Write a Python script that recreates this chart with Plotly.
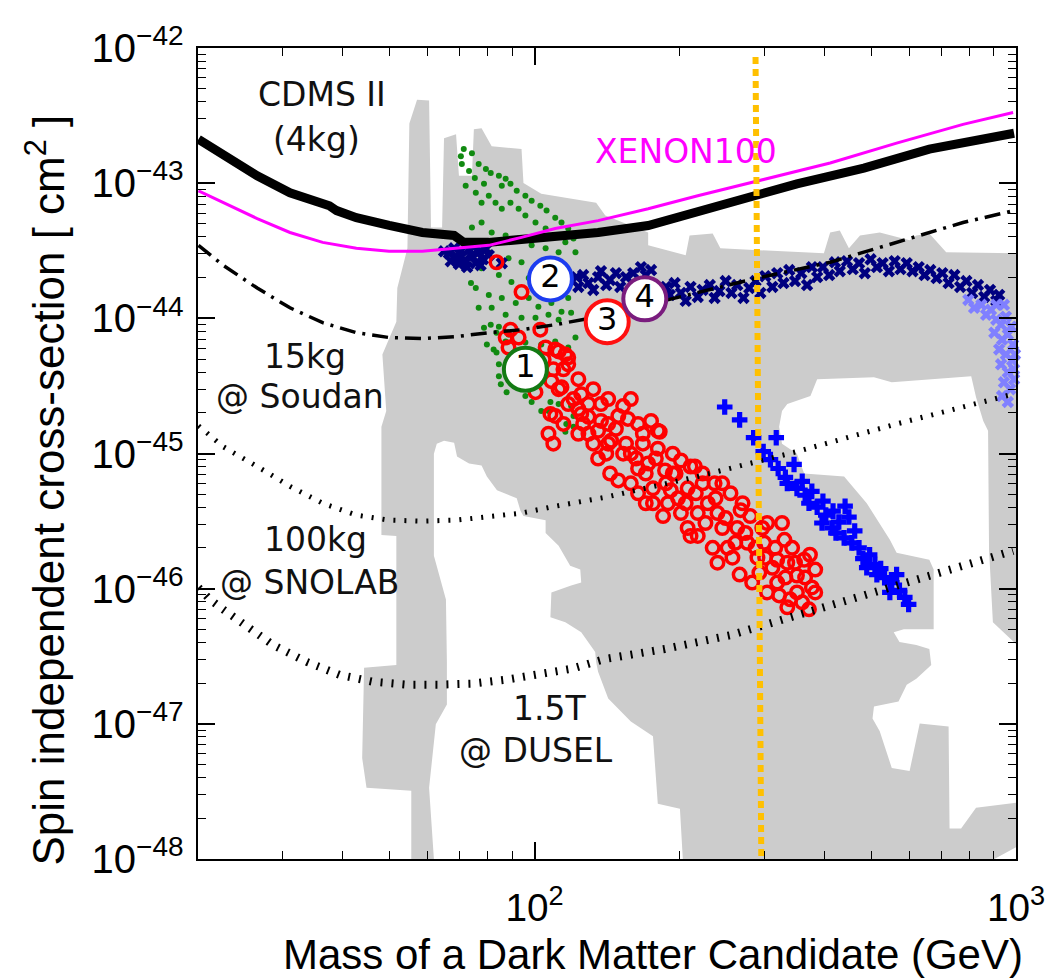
import numpy as np
import plotly.graph_objects as go

# ------------------------------------------------------------------
# Data (log10 of mass [GeV], log10 of sigma [cm^2])
# ------------------------------------------------------------------

# Gray allowed region (outer boundary)
gray_logm = [1.744, 1.744, 1.651, 1.642, 1.646, 1.672, 1.713, 1.713, 1.682, 1.682, 1.692, 1.684,
             1.713, 1.715, 1.725, 1.736, 1.740, 1.756, 1.781, 1.785, 1.808, 1.812, 1.837, 1.843,
             1.870, 1.874, 1.890, 1.911, 1.973, 1.977, 2.014, 2.128, 2.147, 2.236, 2.236, 2.314,
             2.322, 2.370, 2.386, 2.601, 2.614, 2.634, 2.653, 2.676, 2.717, 2.779, 2.793, 2.820,
             2.855, 3.0, 3.0, 2.955]
gray_logs = [-48.0, -47.495, -47.473, -47.253, -46.586, -46.579, -46.564, -45.610, -45.603, -44.803,
             -44.685, -44.267, -44.025, -43.776, -43.629, -43.482, -42.558, -42.382, -42.389, -43.328,
             -43.328, -42.668, -42.638, -42.946, -42.946, -42.602, -42.594, -42.726, -42.748, -42.998,
             -43.079, -43.145, -43.240, -43.365, -43.460, -43.533, -43.387, -43.372, -43.482, -43.519,
             -43.365, -43.350, -43.482, -43.387, -43.365, -43.423, -43.387, -43.372, -43.511, -43.519,
             -47.913, -48.0]

# Excluded (white) pockets inside the gray region
holeL_logm = [1.791, 1.797, 1.812, 1.833, 1.839, 1.864, 1.890, 1.901, 1.922, 1.963, 1.971, 1.977,
              2.023, 2.023, 2.050, 2.074, 2.095, 2.097, 2.076, 2.035, 2.033, 2.064, 2.097, 2.126,
              2.128, 2.132, 2.153, 2.200, 2.246, 2.256, 2.302, 2.308, 1.791, 1.781, 1.795, 1.818,
              1.818, 1.816, 1.791]
holeL_logs = [-45.001, -44.927, -44.905, -44.920, -45.023, -45.074, -45.089, -45.170, -45.272, -45.331,
              -45.426, -45.463, -45.493, -45.588, -45.683, -45.830, -45.859, -45.955, -45.977, -46.028,
              -46.211, -46.248, -46.322, -46.468, -46.542, -46.615, -46.813, -46.982, -47.092, -47.591,
              -47.628, -48.0, -48.0, -47.473, -47.004, -46.857, -46.542, -46.080, -45.757]

holeR_logm = [2.587, 2.705, 2.742, 2.907, 2.917, 2.932, 2.942, 2.944, 2.952, 3.0, 3.0, 2.917, 2.886,
              2.862, 2.860, 2.800, 2.779, 2.742, 2.717, 2.702, 2.705, 2.756, 2.773, 2.793, 2.824,
              2.820, 2.793, 2.758, 2.746, 2.767, 2.829, 2.829, 2.820, 2.752, 2.738, 2.690, 2.643,
              2.560, 2.545, 2.514, 2.508, 2.514, 2.525, 2.573]
holeR_logs = [-44.451, -44.436, -44.473, -44.429, -44.583, -44.759, -44.832, -45.713, -46.248, -46.410,
              -47.584, -47.620, -47.774, -47.774, -47.019, -46.997, -47.349, -47.327, -47.055, -46.960,
              -46.872, -46.835, -46.710, -46.666, -46.564, -46.446, -46.417, -46.395, -46.322, -46.300,
              -46.300, -45.859, -45.786, -45.735, -45.639, -45.368, -45.170, -45.148, -45.001, -44.927,
              -44.803, -44.685, -44.634, -44.575]

# Limit curves
cdms_logm = [1.302, 1.353, 1.424, 1.492, 1.560, 1.574, 1.589, 1.630, 1.698, 1.767, 1.833, 1.843,
             1.853, 1.905, 1.973, 2.043, 2.132, 2.236, 2.339, 2.457, 2.545, 2.684, 2.820, 2.996]
cdms_logs = [-42.675, -42.785, -42.946, -43.071, -43.145, -43.167, -43.203, -43.255, -43.313, -43.365,
             -43.387, -43.423, -43.438, -43.438, -43.416, -43.387, -43.365, -43.313, -43.218, -43.093,
             -43.005, -42.888, -42.748, -42.631]

xenon_logm = [1.302, 1.353, 1.424, 1.492, 1.560, 1.630, 1.698, 1.767, 1.837, 1.905, 1.973, 2.043,
              2.132, 2.236, 2.339, 2.463, 2.614, 2.752, 2.890, 2.994]
xenon_logs = [-43.057, -43.145, -43.262, -43.365, -43.438, -43.482, -43.504, -43.504, -43.482, -43.460,
              -43.401, -43.335, -43.277, -43.189, -43.093, -42.983, -42.851, -42.704, -42.565, -42.477]

soudan_logm = [1.302, 1.353, 1.424, 1.492, 1.560, 1.630, 1.698, 1.767, 1.837, 1.905, 1.973, 2.043,
               2.132, 2.215, 2.291, 2.463, 2.614, 2.752, 2.890, 2.996]
soudan_logs = [-43.460, -43.607, -43.776, -43.922, -44.032, -44.106, -44.142, -44.150, -44.135, -44.106,
               -44.084, -44.047, -43.988, -43.915, -43.849, -43.702, -43.585, -43.438, -43.291, -43.203]

snolab_logm = [1.302, 1.353, 1.424, 1.492, 1.560, 1.630, 1.698, 1.767, 1.837, 1.905, 1.973, 2.043,
               2.147, 2.339, 2.545, 2.752, 2.924, 2.994]
snolab_logs = [-44.795, -44.949, -45.096, -45.243, -45.368, -45.456, -45.493, -45.500, -45.493, -45.463,
               -45.441, -45.390, -45.324, -45.170, -44.986, -44.781, -44.619, -44.561]

dusel_logm = [1.302, 1.326, 1.353, 1.388, 1.457, 1.527, 1.595, 1.663, 1.733, 1.802, 1.870, 1.940,
              2.008, 2.076, 2.147, 2.271, 2.407, 2.545, 2.752, 2.994]
dusel_logs = [-45.992, -46.080, -46.153, -46.248, -46.417, -46.542, -46.637, -46.688, -46.710, -46.710,
              -46.703, -46.674, -46.637, -46.593, -46.520, -46.446, -46.344, -46.197, -45.977, -45.720]

orange_logm = [2.459, 2.471]
orange_logs = [-42.066, -48.0]

# Model points
green_logm = [1.853, 1.870, 1.849, 1.884, 1.899, 1.909, 1.926, 1.940, 1.932, 1.950, 1.963, 1.981,
              1.994, 2.012, 2.025, 2.043, 2.056, 2.070, 2.081, 2.085, 1.857, 1.878, 1.890, 1.905,
              1.919, 1.932, 1.950, 1.967, 1.981, 2.002, 2.023, 2.043, 2.064, 1.870, 1.890, 1.911,
              1.940, 1.967, 1.994, 2.023, 2.050, 1.905, 1.946, 1.973, 2.008, 2.035, 2.064, 1.890,
              1.926, 1.952, 1.988, 2.014, 2.043, 2.070, 1.868, 1.878, 1.905, 1.932, 1.961, 1.988,
              2.008, 2.035, 2.056, 1.884, 1.911, 1.940, 1.973, 2.002, 2.029, 2.050, 2.076, 1.895,
              1.909, 1.921, 1.926, 1.946, 1.981, 2.014, 2.043, 2.070, 1.901, 1.915, 1.940, 2.085,
              1.921, 1.926, 1.926, 1.981, 1.994, 2.033, 2.050, 2.014, 2.081, 2.066, 2.081, 2.064,
              2.029, 2.076, 1.930, 1.942, 1.847, 1.864, 1.876, 1.895]
green_logs = [-42.748, -42.778, -42.858, -42.858, -42.895, -42.924, -42.946, -42.968, -43.020, -43.005,
              -43.057, -43.093, -43.130, -43.167, -43.203, -43.255, -43.291, -43.335, -43.409, -43.511,
              -43.020, -43.071, -43.145, -43.093, -43.145, -43.189, -43.145, -43.189, -43.240, -43.291,
              -43.335, -43.387, -43.438, -43.328, -43.291, -43.365, -43.387, -43.409, -43.460, -43.482,
              -43.511, -43.511, -43.555, -43.585, -43.629, -43.658, -43.629, -43.629, -43.680, -43.732,
              -43.702, -43.776, -43.805, -43.849, -43.739, -43.776, -43.827, -43.849, -43.886, -43.849,
              -43.915, -43.886, -43.952, -43.922, -43.922, -43.974, -43.996, -43.996, -43.974, -44.010,
              -43.959, -44.069, -44.047, -44.106, -44.062, -44.120, -44.179, -44.194, -44.172, -44.216,
              -44.194, -44.230, -44.172, -44.142, -44.252, -44.340, -44.428, -44.575, -44.619, -44.619,
              -44.634, -44.685, -44.722, -44.781, -44.803, -44.839, -44.685, -44.649, -44.487, -44.546,
              -42.800, -42.910, -42.961, -43.005]

navy_logm = [1.822, 1.833, 1.839, 1.847, 1.855, 1.864, 1.870, 1.878, 1.884, 1.893, 1.899, 1.826,
             1.843, 1.860, 1.876, 1.888, 1.905, 1.812, 1.932,
             2.087, 2.091, 2.101, 2.112, 2.122, 2.132, 2.138, 2.149, 2.157, 2.169, 2.178, 2.190,
             2.205, 2.221, 2.231, 2.242, 2.273, 2.281, 2.291, 2.304, 2.314, 2.324, 2.339, 2.349,
             2.364, 2.374, 2.384, 2.397, 2.409, 2.421, 2.434, 2.446, 2.459, 2.469, 2.479, 2.494,
             2.504, 2.517, 2.529, 2.541, 2.554, 2.566, 2.576, 2.587, 2.599, 2.612, 2.624, 2.634,
             2.649, 2.661, 2.674, 2.686, 2.698, 2.711, 2.723, 2.736, 2.748, 2.760, 2.773, 2.785,
             2.798, 2.810, 2.822, 2.835, 2.847, 2.860, 2.872, 2.884, 2.897, 2.909, 2.921, 2.934,
             2.946, 2.959, 2.965]
navy_logs = [-43.519, -43.482, -43.548, -43.504, -43.570, -43.489, -43.541, -43.592, -43.511, -43.563,
             -43.489, -43.577, -43.599, -43.621, -43.460, -43.607, -43.533, -43.504, -43.592,
             -43.695, -43.768, -43.680, -43.739, -43.790, -43.695, -43.651, -43.754, -43.717, -43.666,
             -43.768, -43.695, -43.666, -43.621, -43.680, -43.643, -43.768, -43.827, -43.739, -43.812,
             -43.871, -43.768, -43.842, -43.790, -43.754, -43.849, -43.798, -43.724, -43.812, -43.754,
             -43.849, -43.776, -43.724, -43.812, -43.688, -43.768, -43.666, -43.739, -43.643, -43.724,
             -43.666, -43.754, -43.621, -43.695, -43.621, -43.680, -43.585, -43.651, -43.577, -43.636,
             -43.592, -43.666, -43.563, -43.621, -43.592, -43.651, -43.577, -43.636, -43.592, -43.651,
             -43.621, -43.680, -43.643, -43.702, -43.666, -43.739, -43.680, -43.768, -43.724, -43.812,
             -43.754, -43.842, -43.790, -43.871, -43.827]

light_logm = [2.901, 2.913, 2.928, 2.938, 2.948, 2.959, 2.969, 2.979, 2.990, 2.955, 2.971, 2.983,
              2.994, 2.965, 2.979, 2.992, 2.969, 2.983, 2.996, 2.975, 2.988, 2.971, 2.983, 2.996,
              2.959, 2.998, 2.975]
light_logs = [-43.864, -43.922, -43.900, -43.974, -43.937, -44.010, -44.047, -43.988, -44.062, -44.106,
              -44.157, -44.120, -44.194, -44.230, -44.267, -44.311, -44.340, -44.399, -44.451, -44.473,
              -44.524, -44.575, -44.619, -44.377, -43.900, -44.267, -43.900]

blue_logm = [2.395, 2.426, 2.455, 2.502, 2.475, 2.490, 2.506, 2.521, 2.539, 2.545, 2.562, 2.576,
             2.570, 2.587, 2.599, 2.605, 2.620, 2.632, 2.645, 2.653, 2.626, 2.643, 2.659, 2.674,
             2.665, 2.682, 2.696, 2.707, 2.719, 2.727, 2.742, 2.752, 2.758, 2.769, 2.777, 2.690,
             2.711, 2.738, 2.597, 2.618, 2.556, 2.525]
blue_logs = [-44.656, -44.751, -44.883, -44.883, -44.986, -45.045, -45.111, -45.177, -45.081, -45.258,
             -45.309, -45.280, -45.368, -45.397, -45.353, -45.456, -45.426, -45.507, -45.390, -45.470,
             -45.588, -45.624, -45.661, -45.698, -45.573, -45.778, -45.749, -45.822, -45.852, -45.918,
             -45.955, -45.896, -46.013, -46.065, -46.116, -45.845, -45.896, -46.028, -45.514, -45.551,
             -45.206, -45.221]

red_logm = [1.921, 1.973, 1.950, 2.012, 1.940, 1.967, 1.946, 2.023, 2.043, 2.070, 2.002, 2.035,
            2.056, 2.070, 2.097, 2.043, 2.029, 2.112, 2.132, 2.138, 2.050, 2.064, 2.033, 2.097,
            2.159, 2.174, 2.200, 2.231, 2.267, 2.242, 2.256, 2.304, 2.324, 2.324, 2.304, 2.271,
            2.200, 2.236, 2.283, 2.200, 2.184, 2.138, 2.260, 2.339, 2.401, 2.428, 2.426, 2.467,
            2.508, 2.545, 2.583, 2.572, 2.583, 2.570, 2.531, 2.477, 2.519, 2.504, 2.560, 2.374,
            2.407, 2.448, 2.333, 2.091, 2.122, 2.153, 2.174, 2.215, 2.225, 2.256, 2.287, 2.318,
            2.349, 2.360, 2.380, 2.390, 2.421, 2.442, 2.463, 2.483, 2.494, 2.525, 2.545, 2.370,
            2.339, 2.298, 2.246, 2.215, 2.184, 2.153,
            2.060, 2.081, 2.101, 2.122, 2.149, 2.169, 2.190, 2.211, 2.231, 2.252, 2.273, 2.293,
            2.314, 2.335, 2.355, 2.376, 2.397, 2.417, 2.438, 2.459, 2.479, 2.500, 2.521, 2.541,
            2.562, 2.576, 2.380, 2.411, 2.452, 2.483, 2.525, 2.556, 2.318, 2.277, 2.246, 2.215,
            2.157, 2.132, 2.112, 2.091, 2.194, 2.225, 2.287, 2.349, 2.390, 2.432, 2.473, 2.514,
            2.535, 2.504, 2.019, 2.039, 2.050, 2.070, 2.060, 2.039, 2.091, 2.112, 2.153]
red_logs = [-43.585, -43.805, -44.084, -44.084, -44.142, -44.142, -44.216, -44.216, -44.230, -44.289,
            -44.546, -44.465, -44.509, -44.340, -44.561, -44.722, -44.854, -44.729, -44.832, -44.634,
            -44.245, -44.267, -44.707, -44.707, -44.905, -45.199, -45.221, -45.368, -45.463, -44.759,
            -44.832, -45.052, -45.096, -45.610, -45.441, -45.126, -45.001, -45.074, -45.272, -44.597,
            -44.649, -44.759, -44.839, -45.610, -45.698, -45.419, -45.896, -45.881, -46.050, -45.903,
            -45.859, -45.749, -46.028, -46.153, -46.079, -45.661, -45.639, -45.786, -45.786, -45.221,
            -45.294, -45.463, -45.096, -44.450, -44.524, -44.597, -44.722, -44.781, -44.927, -44.964,
            -45.148, -45.258, -45.221, -45.368, -45.441, -45.551, -45.551, -45.661, -45.771, -45.514,
            -45.845, -45.808, -46.028, -45.698, -45.441, -45.331, -45.258, -45.111, -45.001, -44.927,
            -44.377, -44.597, -44.781, -44.927, -45.001, -44.817, -44.927, -45.037, -45.148, -45.037,
            -45.221, -45.148, -45.368, -45.294, -45.514, -45.331, -45.478, -45.661, -45.588, -45.698,
            -45.771, -45.698, -45.918, -45.808, -45.918, -45.991, -45.808, -45.771, -45.955, -46.028,
            -46.138, -46.101, -45.551, -45.368, -45.368, -45.294, -45.148, -45.037, -44.634, -44.854,
            -44.744, -44.854, -45.001, -45.148, -45.221, -45.368, -45.551, -45.514, -45.698, -45.955,
            -44.304, -44.377, -44.524, -44.634, -44.781, -44.927, -44.671, -44.854, -44.781]

# Numbered benchmark circles
bench_labels = ["1", "2", "3", "4"]
bench_logm = [1.981, 2.033, 2.151, 2.229]
bench_logs = [-44.377, -43.709, -44.025, -43.856]
bench_colors = ["#137a13", "#1c3cf0", "#ff1010", "#7a1c7e"]


def pw(vals):
    return [None if v is None else 10.0 ** v for v in vals]


fig = go.Figure()

# gray region
fig.add_trace(go.Scatter(x=pw(gray_logm), y=pw(gray_logs), mode="lines", fill="toself",
                         fillcolor="#cccccc", line=dict(width=0, color="#cccccc"),
                         hoverinfo="skip"))
# white pockets
hx = pw(holeL_logm) + [None] + pw(holeR_logm)
hy = pw(holeL_logs) + [None] + pw(holeR_logs)
fig.add_trace(go.Scatter(x=hx, y=hy, mode="lines", fill="toself", fillcolor="white",
                         line=dict(width=0, color="white"), hoverinfo="skip"))

# points
fig.add_trace(go.Scatter(x=pw(green_logm), y=pw(green_logs), mode="markers",
                         marker=dict(symbol="circle", size=6, color="#118a11"), hoverinfo="skip"))
fig.add_trace(go.Scatter(x=pw(navy_logm), y=pw(navy_logs), mode="markers",
                         marker=dict(symbol="x", size=11, color="#000080"), hoverinfo="skip"))
fig.add_trace(go.Scatter(x=pw(light_logm), y=pw(light_logs), mode="markers", cliponaxis=False,
                         marker=dict(symbol="x", size=11, color="#8080ff"), hoverinfo="skip"))
fig.add_trace(go.Scatter(x=pw(blue_logm), y=pw(blue_logs), mode="markers",
                         marker=dict(symbol="cross", size=13, color="#0000ff"), hoverinfo="skip"))
fig.add_trace(go.Scatter(x=pw(red_logm), y=pw(red_logs), mode="markers",
                         marker=dict(symbol="circle-open", size=12.5, color="#ff0000",
                                     line=dict(width=3.5, color="#ff0000")), hoverinfo="skip"))

# curves
fig.add_trace(go.Scatter(x=pw(dusel_logm), y=pw(dusel_logs), mode="lines",
                         line=dict(color="black", width=8, dash="2px,9px"), hoverinfo="skip"))
fig.add_trace(go.Scatter(x=pw(snolab_logm), y=pw(snolab_logs), mode="lines",
                         line=dict(color="black", width=5, dash="2px,9px"), hoverinfo="skip"))
fig.add_trace(go.Scatter(x=pw(soudan_logm), y=pw(soudan_logs), mode="lines",
                         line=dict(color="black", width=3.5, dash="16px,7px,3px,7px"),
                         hoverinfo="skip"))
fig.add_trace(go.Scatter(x=pw(cdms_logm), y=pw(cdms_logs), mode="lines",
                         line=dict(color="black", width=9), hoverinfo="skip"))
fig.add_trace(go.Scatter(x=pw(xenon_logm), y=pw(xenon_logs), mode="lines",
                         line=dict(color="#ff00ff", width=3), hoverinfo="skip"))
fig.add_trace(go.Scatter(x=pw(orange_logm), y=pw(orange_logs), mode="lines",
                         line=dict(color="#ffc000", width=6, dash="7px,5px"), hoverinfo="skip"))

# benchmark circles
fig.add_trace(go.Scatter(x=pw(bench_logm), y=pw(bench_logs), mode="markers+text",
                         text=bench_labels, textposition="middle center",
                         textfont=dict(family="DejaVu Sans", size=32, color="black"),
                         marker=dict(symbol="circle", size=43, color="white",
                                     line=dict(width=4, color=bench_colors)),
                         hoverinfo="skip"))

labels = [
    ("CDMS II", 1.558, -42.345, "#111111"),
    ("(4kg)", 1.547, -42.675, "#111111"),
    ("XENON100", 2.314, -42.763, "#ff00ff"),
    ("15kg", 1.523, -44.282, "#111111"),
    ("@ Soudan", 1.512, -44.575, "#111111"),
    ("100kg", 1.545, -45.639, "#111111"),
    ("@ SNOLAB", 1.533, -45.955, "#111111"),
    ("1.5T", 2.031, -46.887, "#111111"),
    ("@ DUSEL", 2.004, -47.195, "#111111"),
]
annotations = []
for t, ax_, ay_, c in labels:
    annotations.append(dict(text=t, x=ax_, y=ay_, xref="x", yref="y", showarrow=False,
                            xanchor="center", yanchor="middle",
                            font=dict(family="DejaVu Sans", size=33, color=c)))

annotations.append(dict(text="Mass of a Dark Matter Candidate (GeV)", x=0.5566, y=-0.1174,
                        xref="paper", yref="paper", showarrow=False, xanchor="center",
                        yanchor="middle",
                        font=dict(family="Liberation Sans, Arial, sans-serif", size=42,
                                  color="black")))
annotations.append(dict(text="Spin independent cross-section [ cm<sup>2</sup> ]", x=-0.1864,
                        y=0.455, xref="paper", yref="paper", showarrow=False, textangle=-90,
                        xanchor="center", yanchor="middle",
                        font=dict(family="Liberation Sans, Arial, sans-serif", size=44,
                                  color="black")))

axis_common = dict(
    type="log", dtick=1, exponentformat="power", showexponent="all",
    ticks="inside", ticklen=17, tickwidth=1.5, tickcolor="black",
    minor=dict(ticks="inside", ticklen=8, tickwidth=1.2, tickcolor="black", dtick="D1",
               showgrid=False),
    showgrid=False, zeroline=False, showline=True, linewidth=2, linecolor="black",
    mirror="allticks",
)

# The page body adds an 8px offset, so the figure is sized to fill the 1057x980 window.
fig.update_layout(
    width=1049, height=972,
    margin=dict(l=190, r=38, t=33, b=121),
    plot_bgcolor="white", paper_bgcolor="white",
    showlegend=False, hovermode=False,
    xaxis=dict(range=[np.log10(20), 3], ticklabelstandoff=15,
               tickfont=dict(family="Liberation Sans, Arial, sans-serif", size=31, color="black"),
               **axis_common),
    yaxis=dict(range=[-48, -42], ticklabelstandoff=6,
               tickfont=dict(family="Liberation Sans, Arial, sans-serif", size=32, color="black"),
               **axis_common),
    annotations=annotations,
)

fig.write_html("out.html")
